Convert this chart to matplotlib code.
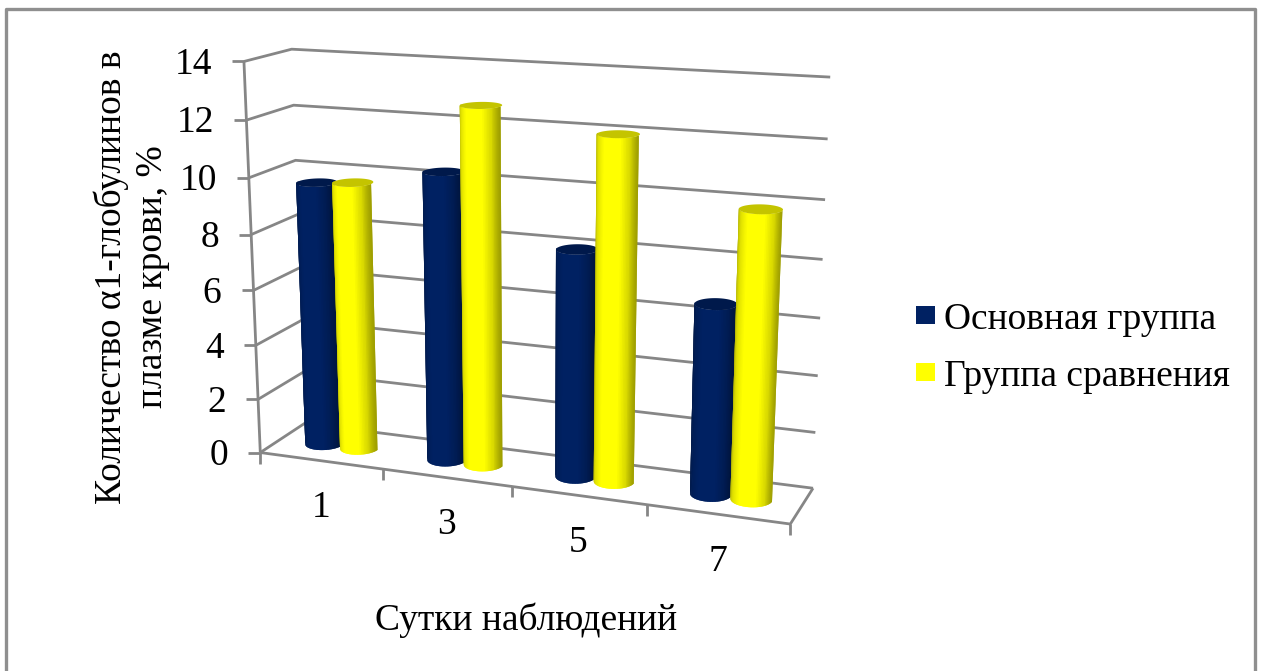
import numpy as np
import matplotlib
matplotlib.use('Agg')
import matplotlib.pyplot as plt
from matplotlib.patches import Polygon, Rectangle

# chart data
days = ['1', '3', '5', '7']
main_group = [9.63, 10.35, 8.05, 6.62]
control_group = [9.73, 12.7, 12.03, 9.9]
value_ticks = [0, 2, 4, 6, 8, 10, 12, 14]
series_names = ['Основная группа', 'Группа сравнения']
y_title = 'Количество α1-глобулинов в\nплазме крови, %'
x_title = 'Сутки наблюдений'

# colours
GRID = '#868686'
BLUE = np.array([0x00, 0x21, 0x62]) / 255
YELLOW = np.array([0xff, 0xff, 0x00]) / 255

# bar shape in chart units (category width = 1, floor depth = 1)
BAR_OFFSET = 0.145
BAR_RADIUS = 0.145
BAR_DEPTH_RADIUS = 0.22

# where the chart box sits in the picture, used to calibrate the projection:
# (category pos, depth, value) -> pixel
FRONT_LEFT = [(260, 453), (258, 398), (257, 345), (253, 290), (251, 234), (248, 178), (246, 120), (245, 62)]
BACK_LEFT = [(304, 423), (303, 373), (302, 320), (300, 268), (298, 215), (294, 161), (293, 105), (292, 49)]
BACK_RIGHT = [(813, 488), (815, 432), (818, 376), (820, 318), (823, 259), (825, 200), (828, 139), (830, 77)]
FRONT_FLOOR = [(383, 470), (512, 487), (647, 505), (790, 524)]


def fit_projection():
    """
    Fits a 3x4 perspective matrix on the calibration points.
    Returns:
        matrix (ndarray): maps (pos, depth, value, 1) to homogeneous pixels
    """
    world, pixels = [], []
    for v, a, b, c in zip(value_ticks, FRONT_LEFT, BACK_LEFT, BACK_RIGHT):
        world += [(0, 0, v), (0, 1, v), (4, 1, v)]
        pixels += [a, b, c]
    for i, p in enumerate(FRONT_FLOOR):
        world.append((i + 1, 0, 0))
        pixels.append(p)

    rows = []
    for (x, y, z), (u, v) in zip(world, pixels):
        rows.append([x, y, z, 1, 0, 0, 0, 0, -u * x, -u * y, -u * z, -u])
        rows.append([0, 0, 0, 0, x, y, z, 1, -v * x, -v * y, -v * z, -v])
    _, _, vt = np.linalg.svd(np.array(rows, dtype=float))
    return vt[-1].reshape(3, 4)


PROJ = fit_projection()


def project(x, y, z):
    """
    Projects chart coordinates to picture pixels.
    """
    x, y, z = np.broadcast_arrays(x, y, z)
    pts = PROJ @ np.vstack([x.ravel(), y.ravel(), z.ravel(), np.ones(x.size)])
    return pts[0] / pts[2], pts[1] / pts[2]


def shade(t):
    """
    Brightness across a cylinder, t going from left (0) to right (1) edge.
    """
    return np.interp(t, [0, 0.12, 0.3, 0.7, 0.88, 1], [0.70, 0.88, 1, 1, 0.85, 0.62])


def draw_cylinder(ax, x, value, color):
    """
    Draws one cylinder standing at category position x, built from thin vertical strips.
    Each strip runs under the next one so no seams show between them.
    """
    n_strips = 40
    angles = np.linspace(np.pi, 2 * np.pi, n_strips + 1)
    xs = x + BAR_RADIUS * np.cos(angles)
    ys = 0.5 + BAR_DEPTH_RADIUS * np.sin(angles)
    t = (1 + np.cos(angles)) / 2

    for i in range(n_strips):
        u_bot, v_bot = project(xs[i:i + 3], ys[i:i + 3], 0)
        u_top, v_top = project(xs[i:i + 3], ys[i:i + 3], value)
        corners = np.column_stack([np.r_[u_bot, u_top[::-1]], np.r_[v_bot, v_top[::-1]]])
        ax.add_patch(Polygon(corners, closed=True, facecolor=color * shade(t[i]), edgecolor='none', zorder=3))

    # the lid is darker than the body
    angles = np.linspace(0, 2 * np.pi, 60)
    u, v = project(x + BAR_RADIUS * np.cos(angles), 0.5 + BAR_DEPTH_RADIUS * np.sin(angles), value)
    ax.add_patch(Polygon(np.column_stack([u, v]), closed=True, facecolor=color * 0.77,
        edgecolor='none', zorder=3))


def draw_box(ax):
    """
    Draws gridlines, axes and ticks of the 3D box.
    """
    line = dict(color=GRID, linewidth=2, solid_capstyle='butt', zorder=1)

    for v in value_ticks:
        # side wall and back wall
        u, w = project([0, 0, 4], [0, 1, 1], v)
        ax.plot(u, w, **line)
        # tick mark and its label
        u, w = project(0, 0, v)
        ax.plot([u[0] - 12, u[0]], [w[0], w[0]], **line)
        ax.text(u[0] - 32, w[0] + 3, str(v), fontsize=27, ha='right', va='center', color='black')

    # value axis and floor
    u, w = project([0, 0], [0, 0], [0, value_ticks[-1]])
    ax.plot(u, w, **line)
    u, w = project([0, 4, 4], [0, 0, 1], 0)
    ax.plot(u, w, **line)

    # category ticks
    for i in range(len(days) + 1):
        u, w = project(i, 0, 0)
        ax.plot([u[0], u[0]], [w[0], w[0] + 11], **line)

    # category labels
    for i, day in enumerate(days):
        u, w = project(i + 0.5, 0, 0)
        ax.text(u[0], w[0] + 47, day, fontsize=27, ha='center', va='center', color='black')


def main():
    """
    Draws the whole picture and saves it.
    """
    plt.rcParams['font.family'] = ['Liberation Serif', 'DejaVu Serif']

    fig = plt.figure(figsize=(12.62, 6.71), dpi=100, facecolor='white')
    ax = fig.add_axes([0, 0, 1, 1])
    ax.set_xlim(0, 1262)
    ax.set_ylim(671, 0)
    ax.axis('off')

    # outer frame, open at the bottom of the crop
    ax.plot([6, 6, 1255, 1255], [671, 9, 9, 671], color='#8f8f8f', linewidth=2.4, zorder=1)

    draw_box(ax)

    # draw the bars, yellow overlaps blue
    for i in range(len(days)):
        draw_cylinder(ax, i + 0.5 - BAR_OFFSET, main_group[i], BLUE)
        draw_cylinder(ax, i + 0.5 + BAR_OFFSET, control_group[i], YELLOW)

    # titles
    ax.text(132, 277, y_title, rotation=90, fontsize=27, ha='center', va='center',
        multialignment='center', linespacing=1.25)
    ax.text(526, 620, x_title, fontsize=27, ha='center', va='center')

    # legend
    for name, color, y in zip(series_names, [BLUE, YELLOW], [315, 372]):
        ax.add_patch(Rectangle((916, y - 9), 19, 18, facecolor=color, edgecolor='none'))
        ax.text(944, y + 5, name, fontsize=27, ha='left', va='center')

    fig.savefig('out.png', dpi=100)
    plt.close(fig)


if __name__ == '__main__':
    main()
